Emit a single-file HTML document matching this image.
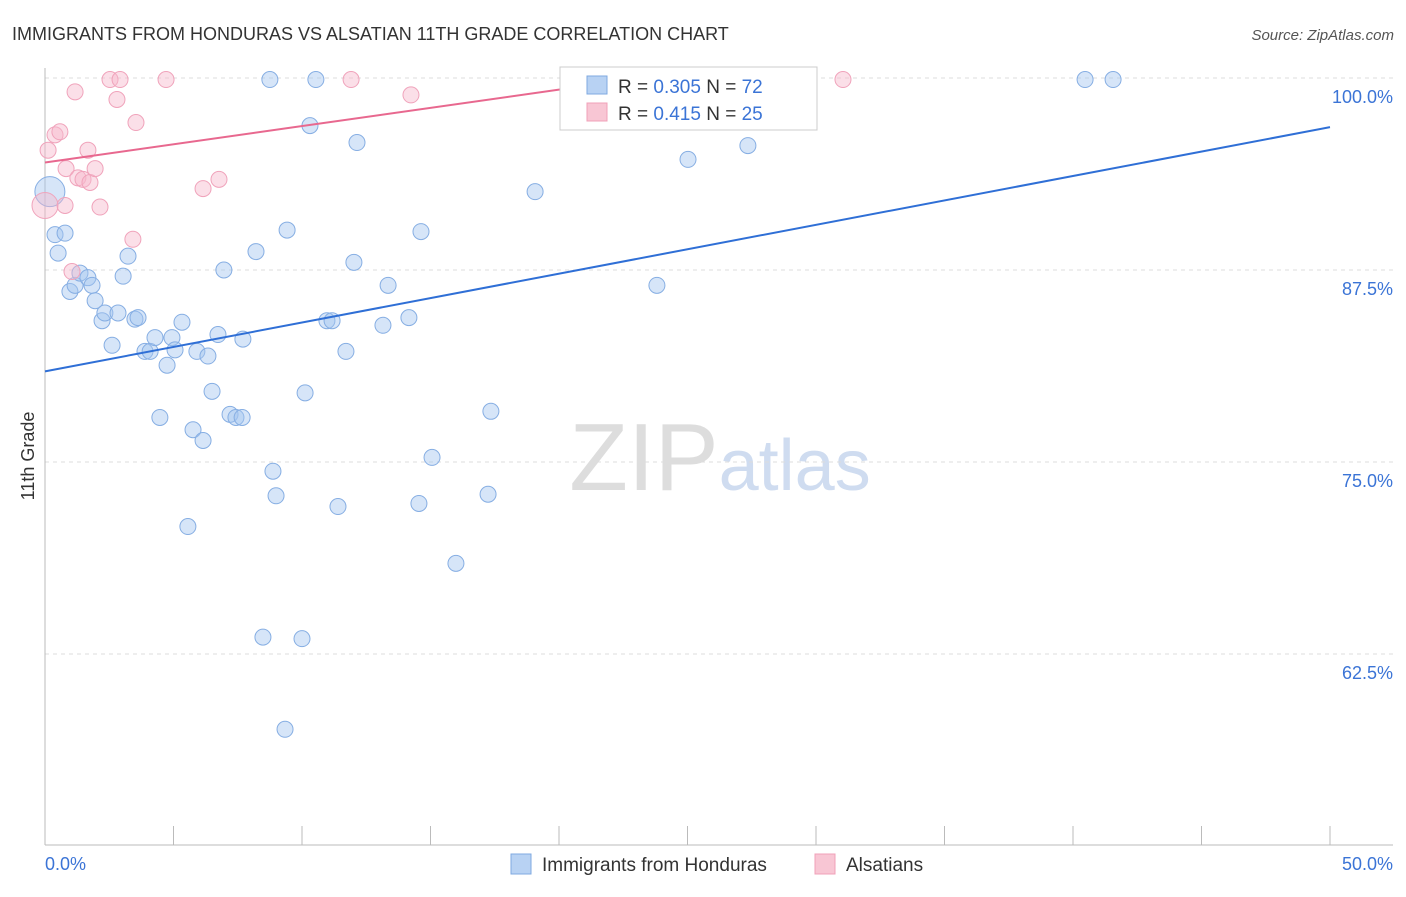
<!DOCTYPE html>
<html><head><meta charset="utf-8"><style>
body{margin:0;background:#fff;font-family:"Liberation Sans",sans-serif;}
svg text{font-family:"Liberation Sans",sans-serif;}
</style></head><body>
<svg id="chart" width="1406" height="892">
<text x="12" y="40" font-size="18" fill="#333">IMMIGRANTS FROM HONDURAS VS ALSATIAN 11TH GRADE CORRELATION CHART</text>
<text x="1394" y="40" font-size="15" fill="#555" font-style="italic" text-anchor="end">Source: ZipAtlas.com</text>
<text x="34" y="456" font-size="18" fill="#333" transform="rotate(-90 34 456)" text-anchor="middle">11th Grade</text>
<text x="720" y="490" font-size="96" fill="#ddd" text-anchor="middle" font-family="Liberation Serif">ZIP<tspan fill="#cfdcf0" font-family="Liberation Sans" font-size="72">atlas</tspan></text>
<g id="grid"></g><g id="pts"></g><g id="lines"></g>
<g>
<rect x="560" y="67" width="257" height="63" fill="#fff" stroke="#ccc"/>
<rect x="587" y="76" width="20" height="18" fill="#b8d2f3" stroke="#7fa9e0"/>
<text x="618" y="93" font-size="19" fill="#333">R = <tspan fill="#3b74d6">0.305</tspan>   N = <tspan fill="#3b74d6">72</tspan></text>
<rect x="587" y="103" width="20" height="18" fill="#f8c6d4" stroke="#f0a0b8"/>
<text x="618" y="120" font-size="19" fill="#333">R =  <tspan fill="#3b74d6">0.415</tspan>   N = <tspan fill="#3b74d6">25</tspan></text>
</g>
<g>
<rect x="511" y="854" width="20" height="20" fill="#b8d2f3" stroke="#7fa9e0"/>
<text x="542" y="871" font-size="19" fill="#333">Immigrants from Honduras</text>
<rect x="815" y="854" width="20" height="20" fill="#f8c6d4" stroke="#f0a0b8"/>
<text x="846" y="871" font-size="19" fill="#333">Alsatians</text>
</g>
</svg>
<script>
const blueX=[0.19,0.39,0.78,0.51,0.97,1.17,1.36,1.67,1.83,1.95,2.22,2.33,2.84,2.61,3.04,3.23,3.5,3.62,3.89,4.09,4.28,4.75,4.94,5.06,5.33,4.47,5.76,6.15,5.56,5.91,6.34,6.5,6.73,6.96,7.2,7.43,7.67,7.7,8.21,8.48,8.75,8.87,8.99,9.34,9.42,10.0,10.12,10.31,10.54,10.97,11.17,11.4,11.71,12.02,12.14,13.15,13.35,14.16,14.55,14.63,15.06,15.99,17.24,17.35,19.07,23.81,25.02,27.35,28.13,40.47,41.56,24.4];
const blueY=[92.6,89.8,89.9,88.6,86.1,86.5,87.3,87.0,86.5,85.5,84.2,84.7,84.7,82.6,87.1,88.4,84.3,84.4,82.2,82.2,83.1,81.3,83.1,82.3,84.1,77.9,77.1,76.4,70.8,82.2,81.9,79.6,83.3,87.5,78.1,77.9,77.9,83.0,88.7,63.6,99.9,74.4,72.8,57.6,90.1,63.5,79.5,96.9,99.9,84.2,84.2,72.1,82.2,88.0,95.8,83.9,86.5,84.4,72.3,90.0,75.3,68.4,72.9,78.3,92.6,86.5,94.7,95.6,99.9,99.9,99.9,99.9];
const pinkX=[0.0,0.12,0.39,0.58,0.82,1.17,1.05,1.28,1.48,1.67,1.75,1.95,2.14,2.53,2.8,2.92,3.42,3.54,4.71,6.15,6.77,11.91,14.24,31.05,0.78];
const pinkY=[91.7,95.3,96.3,96.5,94.1,99.1,87.4,93.5,93.4,95.3,93.2,94.1,91.6,99.9,98.6,99.9,89.5,97.1,99.9,92.8,93.4,99.9,98.9,99.9,91.7];
const blueTrendX=[0,50], blueTrendY=[80.9,96.8];
const pinkTrendX=[0,21.5], pinkTrendY=[94.5,99.6];
const yTicks=[100,87.5,75,62.5];
const yTickLabels=["100.0%","87.5%","75.0%","62.5%"];
const xTicks=[0,5,10,15,20,25,30,35,40,45,50];
const NS="http://www.w3.org/2000/svg";
const sx=v=>45+v*25.7, sy=v=>78+(100-v)*15.36;
function mk(tag,attrs,parent){const e=document.createElementNS(NS,tag);for(const k in attrs)e.setAttribute(k,attrs[k]);parent.appendChild(e);return e;}
const grid=document.getElementById('grid');
yTicks.forEach((t,i)=>{
 const l=mk('line',{x1:45,x2:1393,y1:sy(t),y2:sy(t),stroke:'#ddd','stroke-dasharray':'4,4'},grid);
 
 
 const tx=mk('text',{x:1393,y:sy(t)+25,'font-size':18,fill:'#3b74d6','text-anchor':'end'},grid);
 tx.textContent=yTickLabels[i];
 
 
});
const ax=mk('line',{x1:45,x2:1393,y1:845,y2:845,stroke:'#bbb'},grid);


const ay=mk('line',{x1:45,x2:45,y1:68,y2:845,stroke:'#bbb'},grid);


xTicks.forEach(t=>{
 const l=mk('line',{x1:sx(t),x2:sx(t),y1:826,y2:845,stroke:'#bbb'},grid);
 
 
});
[[0,'0.0%','start',45],[50,'50.0%','end',1393]].forEach(a=>{
 const tx=mk('text',{x:a[3],y:870,'font-size':18,fill:'#3b74d6','text-anchor':a[2]},grid);
 tx.textContent=a[1];
 
 
});
const pts=document.getElementById('pts');
blueX.forEach((x,i)=>{
 const c=mk('circle',{cx:sx(x),cy:sy(blueY[i]),r:i==0?15:8,fill:'rgba(165,198,240,0.45)',stroke:'#86aee3','stroke-width':1},pts);
 
 
});
pinkX.forEach((x,i)=>{
 const c=mk('circle',{cx:sx(x),cy:sy(pinkY[i]),r:i==0?13:8,fill:'rgba(246,184,203,0.45)',stroke:'#f0a3bb','stroke-width':1},pts);
 
 
});
const lines=document.getElementById('lines');
const bl=mk('line',{x1:sx(blueTrendX[0]),y1:sy(blueTrendY[0]),x2:sx(blueTrendX[1]),y2:sy(blueTrendY[1]),stroke:'#2f6fd6','stroke-width':2},lines);


const pl=mk('line',{x1:sx(pinkTrendX[0]),y1:sy(pinkTrendY[0]),x2:sx(pinkTrendX[1]),y2:sy(pinkTrendY[1]),stroke:'#e8688f','stroke-width':2},lines);


</script>
</body></html>
